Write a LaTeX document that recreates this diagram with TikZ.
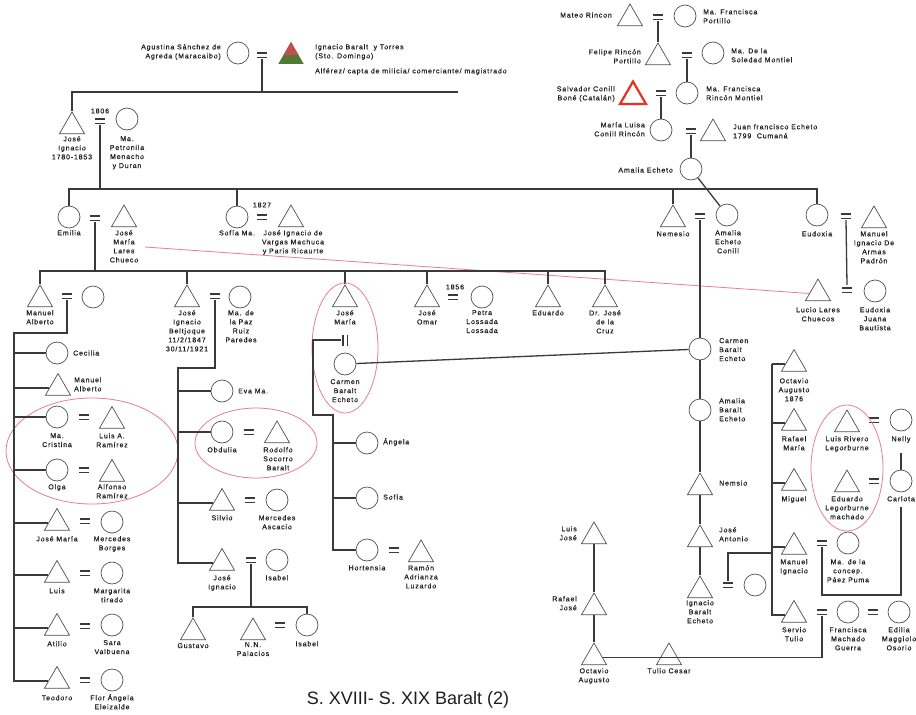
\documentclass[tikz,border=0pt]{standalone}
\usepackage{fontspec}
\setmainfont{Liberation Sans}
\newfontfamily\labfont{Liberation Sans}[LetterSpace=12,FakeBold=0.4]
\usetikzlibrary{shapes.geometric,calc}
\definecolor{linec}{HTML}{3A3A3A}
\definecolor{shapec}{HTML}{505050}
\definecolor{pinkc}{HTML}{E87AA8}
\definecolor{txtc}{HTML}{1E1E1E}
\definecolor{redt}{HTML}{C0504D}
\definecolor{greent}{HTML}{4E7A33}
\definecolor{redline}{HTML}{E8321E}
\begin{document}
\begin{tikzpicture}[x=1pt,y=-1pt,
 fem/.style={circle,draw=shapec,line width=0.7pt,minimum size=22pt,inner sep=0pt},
 mal/.style={regular polygon,regular polygon sides=3,draw=shapec,line width=0.7pt,minimum size=29pt,inner sep=0pt},
 lab/.style={font=\labfont\fontsize{7}{9}\selectfont,align=center,inner sep=0pt,text=txtc,anchor=north},
 labl/.style={lab,anchor=north west,align=left},
 labr/.style={lab,anchor=north east,align=right},
 con/.style={draw=linec,line width=1.3pt},
 pk/.style={draw=pinkc,line width=0.8pt},
 eqs/.pic={\draw[draw=linec,line width=1.6pt] (-5,-2.3) -- (5,-2.3) (-5,2.3) -- (5,2.3);},
 veqs/.pic={\draw[draw=linec,line width=1.6pt] (-2.3,-5.5) -- (-2.3,5.5) (2.3,-5.5) -- (2.3,5.5);}
]
\fill[white] (0,0) rectangle (916,715);
\useasboundingbox (0,0) rectangle (916,715);

% ---------------- top left
\node[fem] (agu) at (238,53) {};
\node[labr] (aguL) at (221,44) {Agustina Sánchez de\\Agreda (Maracaibo)};
\coordinate (eqA) at (262,55); \pic at (eqA) {eqs};
\node[mal,draw=none,path picture={
  \fill[greent] (path picture bounding box.south west) rectangle (path picture bounding box.north east);
  \fill[redt] (path picture bounding box.north west) rectangle ([yshift=-13pt]path picture bounding box.north east);}] (ign) at (291,56.5) {};
\node[labl] (ignL) at (315,44) {Ignacio Baralt\ \ y Torres\\(Sto. Domingo)};
\node[labl] (ignL2) at (315,68) {Alférez/ capta de milicia/ comerciante/ magistrado};

\node[mal] (jose1) at (72,126.5) {};
\node[lab] (jose1L) at (72,136) {José\\Ignacio\\1780-1853};
\node[lab,anchor=center] (y1806) at (100,111) {1806};
\coordinate (eq1) at (100,121); \pic at (eq1) {eqs};
\node[fem] (petr) at (127,119) {};
\node[lab] (petrL) at (127,136) {Ma.\\Petronila\\Menacho\\y Duran};

\coordinate (j0) at (262,92);
\coordinate (j0e) at (458,92);
\draw[con] ([yshift=-4pt]eqA) -- (j0);
\draw[con] (j0e) -- (jose1.north |- j0) -- (jose1.north);

% ---------------- generation of Emilia
\coordinate (j1) at (100,189);
\draw[con] ([yshift=-4pt]eq1) -- (j1);
\node[fem] (emil) at (69,217) {};
\node[lab] (emilL) at (69,230) {Emilia};
\coordinate (eq2) at (95,218); \pic at (eq2) {eqs};
\node[mal] (josl) at (124,219.5) {};
\node[lab] (joslL) at (124,230) {José\\María\\Lares\\Chueco};

\node[fem] (sofi) at (237,217) {};
\node[lab] (sofiL) at (237,230) {Sofía Ma.};
\node[lab,anchor=center] (y1827) at (262,205) {1827};
\coordinate (eq3) at (262,217); \pic at (eq3) {eqs};
\node[mal] (varg) at (291,219.5) {};
\node[lab] (vargL) at (293,230) {José Ignacio de\\Vargas Machuca\\y Paris Ricaurte};

\node[mal] (neme) at (673,219.5) {};
\node[lab] (nemeL) at (673,231) {Nemesio};
\coordinate (eq4) at (700,216); \pic at (eq4) {eqs};
\node[fem] (amec) at (727,215) {};
\node[lab] (amecL) at (728,230) {Amalia\\Echeto\\Conill};

\node[fem] (eudo) at (817,215) {};
\node[lab] (eudoL) at (817,231) {Eudoxia};
\coordinate (eq5) at (846,216); \pic at (eq5) {eqs};
\node[mal] (mani) at (874,220.5) {};
\node[lab] (maniL) at (874,231) {Manuel\\Ignacio De\\Armas\\Padrón};

\draw[con] (emil.north) -- (emil.north |- j1) -- (eudo.north |- j1) -- (eudo.north);
\draw[con] (sofi.north |- j1) -- (sofi.north);
\draw[con] (neme.north |- j1) -- (neme.north);

% ---------------- top right
\node[mal] (mate) at (630,18.5) {};
\node[lab,anchor=east] (mateL) at (612,15) {Mateo Rincon};
\coordinate (eq6) at (658,17); \pic at (eq6) {eqs};
\node[fem] (mafp) at (685,16) {};
\node[labl] (mafpL) at (703,9) {Ma. Francisca\\Portillo};
\node[mal] (feli) at (658,57.5) {};
\node[labr] (feliL) at (641,49) {Felipe Rincón\\Portillo};
\coordinate (eq7) at (687,55); \pic at (eq7) {eqs};
\node[fem] (maso) at (713,53) {};
\node[labl] (masoL) at (731,48) {Ma. De la\\Soledad Montiel};
\node[fem] (mafr) at (687,93) {};
\node[labl] (mafrL) at (706,86) {Ma. Francisca\\Rincón Montiel};
\node[mal,draw=redline,line width=2.2pt,minimum size=30pt] (salv) at (633,96.5) {};
\node[labr] (salvL) at (615,86) {Salvador Conill\\Boné (Catalán)};
\coordinate (eq8) at (661,93); \pic at (eq8) {eqs};
\node[fem] (malu) at (661,130) {};
\node[labr] (maluL) at (645,122) {María Luisa\\Conill Rincón};
\coordinate (eq9) at (691,131); \pic at (eq9) {eqs};
\node[mal] (juan) at (713,133.5) {};
\node[labl] (juanL) at (733,124) {Juan francisco Echeto\\1799\ \ Cumaná};
\node[fem] (amal) at (691,169) {};
\node[lab,anchor=east] (amalL) at (673,170) {Amalia Echeto};

\draw[con] ([yshift=-4pt]eq6) -- (feli.north);
\draw[con] ([yshift=-4pt]eq7) -- (mafr.north);
\draw[con] ([yshift=-4pt]eq8) -- (malu.north);
\draw[con] ([yshift=-4pt]eq9) -- (amal.north);
\draw[con] (amal) -- (amec);

% ---------------- Lucio / Eudoxia Juana
\node[mal] (luci) at (818,293.5) {};
\node[lab] (luciL) at (818,307) {Lucio Lares\\Chuecos};
\coordinate (eq10) at (847,290); \pic at (eq10) {eqs};
\node[fem] (eudj) at (875,291) {};
\node[lab] (eudjL) at (875,307) {Eudoxia\\Juana\\Bautista};
\draw[con] ([yshift=-4pt]eq5) -- ([yshift=5pt]eq10);
\coordinate (pk1) at (145,247);
\draw[pk] (pk1) -- (luci.west);

% ---------------- generation of Manuel Alberto etc.
\coordinate (j2) at (95,271);
\draw[con] ([yshift=-4pt]eq2) -- (j2);
\node[mal] (manu) at (40,299.5) {};
\node[lab] (manuL) at (40,310) {Manuel\\Alberto};
\coordinate (eq11) at (67,296); \pic at (eq11) {eqs};
\node[fem] (manw) at (93,297) {};

\node[mal] (jibe) at (187,299.5) {};
\node[lab] (jibeL) at (187,310) {José\\Ignacio\\Beltjoque\\11/2/1847\\30/11/1921};
\coordinate (eq12) at (215,296); \pic at (eq12) {eqs};
\node[fem] (mapz) at (240,297) {};
\node[lab] (mapzL) at (241,310) {Ma. de\\la Paz\\Ruiz\\Paredes};

\node[mal] (jmr) at (345,299.5) {};
\node[lab] (jmrL) at (345,310) {José\\María};
\coordinate (eqv) at (345,340); \pic at (eqv) {veqs};
\node[fem] (carm) at (345,364) {};
\node[lab] (carmL) at (345,379) {Carmen\\Baralt\\Echeto};

\node[mal] (jomr) at (427,299.5) {};
\node[lab] (jomrL) at (427,310) {José\\Omar};
\node[lab,anchor=center] (y1856) at (455,287) {1856};
\coordinate (eq13) at (453,297); \pic at (eq13) {eqs};
\node[fem] (petr2) at (482,297) {};
\node[lab] (petr2L) at (482,310) {Petra\\Lossada\\Lossada};

\node[mal] (edua) at (548,299.5) {};
\node[lab] (eduaL) at (548,310) {Eduardo};
\node[mal] (drjo) at (605,299.5) {};
\node[lab] (drjoL) at (605,310) {Dr. José\\de la\\Cruz};

\draw[con] (manu.north) -- (manu.north |- j2) -- (drjo.north |- j2) -- (drjo.north);
\draw[con] (jibe.north |- j2) -- (jibe.north);
\draw[con] (jmr.north |- j2) -- (jmr.north);
\draw[con] (jomr.north |- j2) -- (jomr.north);
\draw[con] (edua.north |- j2) -- (edua.north);

% ---------------- children of Manuel Alberto
\node[fem] (ceci) at (57,353) {};
\node[lab,anchor=west] (ceciL) at (73,353) {Cecilia};
\node[mal] (mana) at (58,388) {};
\node[labl] (manaL) at (74,377) {Manuel\\Alberto};
\node[fem] (macr) at (57,417) {};
\node[lab] (macrL) at (57,433) {Ma.\\Cristina};
\coordinate (eqc1) at (84,417); \pic at (eqc1) {eqs};
\node[mal] (luia) at (112,421) {};
\node[lab] (luiaL) at (112,433) {Luis A.\\Ramírez};
\node[fem] (olga) at (57,470) {};
\node[lab] (olgaL) at (57,484) {Olga};
\coordinate (eqc2) at (84,470); \pic at (eqc2) {eqs};
\node[mal] (alfo) at (112,474) {};
\node[lab] (alfoL) at (112,484) {Alfonso\\Ramírez};
\node[mal] (jmar) at (57,523) {};
\node[lab] (jmarL) at (57,536) {José María};
\coordinate (eqc3) at (85,521); \pic at (eqc3) {eqs};
\node[fem] (merc) at (112,522) {};
\node[lab] (mercL) at (112,536) {Mercedes\\Borges};
\node[mal] (luis) at (57,575) {};
\node[lab] (luisL) at (57,588) {Luis};
\coordinate (eqc4) at (85,573); \pic at (eqc4) {eqs};
\node[fem] (marg) at (112,573) {};
\node[lab] (margL) at (112,588) {Margarita\\tirado};
\node[mal] (atil) at (57,628) {};
\node[lab] (atilL) at (57,641) {Atilio};
\coordinate (eqc5) at (85,626); \pic at (eqc5) {eqs};
\node[fem] (sara) at (112,625) {};
\node[lab] (saraL) at (112,640) {Sara\\Valbuena};
\node[mal] (teod) at (57,681) {};
\node[lab] (teodL) at (57,695) {Teodoro};
\coordinate (eqc6) at (85,680); \pic at (eqc6) {eqs};
\node[fem] (flor) at (112,680) {};
\node[lab] (florL) at (112,694) {Flor Ángela\\Eleizalde};
\draw[pk] (92,451) ellipse [x radius=86pt, y radius=53pt];

\coordinate (v1) at (14,333);
\draw[con] ([yshift=-4pt]eq11) -- (eq11 |- v1) -- (v1) -- (v1 |- teod) -- (teod.west);
\foreach \n in {ceci,mana,macr,olga,jmar,luis,atil} \draw[con] (v1 |- \n) -- (\n.west);

% ---------------- children of José Ignacio Beltjoque
\node[fem] (evam) at (222,391) {};
\node[lab,anchor=west] (evamL) at (238,391) {Eva Ma.};
\node[fem] (obdu) at (222,432) {};
\node[lab] (obduL) at (222,447) {Obdulia};
\coordinate (eqd1) at (249,432); \pic at (eqd1) {eqs};
\node[mal] (rodo) at (277,435.5) {};
\node[lab] (rodoL) at (278,447) {Rodolfo\\Socorro\\Baralt};
\draw[pk] (256,443) ellipse [x radius=61pt, y radius=35pt];
\node[mal] (silv) at (222,503) {};
\node[lab] (silvL) at (222,515) {Silvio};
\coordinate (eqd2) at (250,500); \pic at (eqd2) {eqs};
\node[fem] (meas) at (277,500) {};
\node[lab] (measL) at (277,515) {Mercedes\\Ascacio};
\node[mal] (jig) at (222,563) {};
\node[lab] (jigL) at (222,575) {José\\Ignacio};
\coordinate (eqd3) at (251,560); \pic at (eqd3) {eqs};
\node[fem] (isa1) at (277,560) {};
\node[lab] (isa1L) at (277,575) {Isabel};
\node[mal] (gust) at (193,632.5) {};
\node[lab] (gustL) at (193,643) {Gustavo};
\node[mal] (nnpa) at (253,632.5) {};
\node[lab] (nnpaL) at (253,642) {N.N.\\Palacios};
\coordinate (eqd4) at (280,625); \pic at (eqd4) {eqs};
\node[fem] (isa2) at (307,625) {};
\node[lab] (isa2L) at (307,641) {Isabel};

\coordinate (v2) at (178,368);
\draw[con] ([yshift=-4pt]eq12) -- (eq12 |- v2) -- (v2) -- (v2 |- jig) -- (jig.west);
\foreach \n in {evam,obdu,silv} \draw[con] (v2 |- \n) -- (\n.west);
\coordinate (j3) at (251,607);
\draw[con] ([yshift=-4pt]eqd3) -- (j3);
\draw[con] (gust.north) -- (gust.north |- j3) -- (isa2.north |- j3) -- (isa2.north);

% ---------------- children of José María & Carmen
\node[fem] (ange) at (367,443) {};
\node[lab,anchor=west] (angeL) at (383,442) {Ángela};
\node[fem] (sofi2) at (367,498) {};
\node[lab,anchor=west] (sofi2L) at (383,497) {Sofía};
\node[fem] (hort) at (367,550) {};
\node[lab] (hortL) at (367,565) {Hortensia};
\coordinate (eqh) at (394,550); \pic at (eqh) {eqs};
\node[mal] (ramo) at (421,554.5) {};
\node[lab] (ramoL) at (421,565) {Ramón\\Adrianza\\Luzardo};
\draw[pk] (345,348) ellipse [x radius=33pt, y radius=65pt];
\coordinate (v3a) at (313,340);
\coordinate (v3b) at (313,415);
\coordinate (v3c) at (333,415);
\draw[con] ([xshift=-4.5pt]eqv) -- (v3a) -- (v3b) -- (v3c) -- (v3c |- hort) -- (hort.west);
\foreach \n in {ange,sofi2} \draw[con] (v3c |- \n) -- (\n.west);

% ---------------- right column
\node[fem] (carm2) at (700,349) {};
\node[labl] (carm2L) at (719,338) {Carmen\\Baralt\\Echeto};
\node[fem] (amba) at (700,410) {};
\node[labl] (ambaL) at (719,398) {Amalia\\Baralt\\Echeto};
\node[mal] (nems) at (700,487.5) {};
\node[lab,anchor=west] (nemsL) at (719,483) {Nemsio};
\node[mal] (joan) at (700,539.5) {};
\node[labl] (joanL) at (719,527) {José\\Antonio};
\node[mal] (igba) at (700,590.5) {};
\node[lab] (igbaL) at (700,600) {Ignacio\\Baralt\\Echeto};
\coordinate (eq15) at (728,585); \pic at (eq15) {eqs};
\node[fem] (igw) at (755,585) {};
\draw[con] ([yshift=-4pt]eq4) -- (carm2.north);
\draw[con] (carm2.south) -- (amba.north) (amba.south) -- (nems.north) (nems.south) -- (joan.north) (joan.south) -- (igba.north);
\draw[con] (carm) -- (carm2);

\node[mal] (octa) at (794,364) {};
\node[lab] (octaL) at (794,378) {Octavio\\Augusto\\1876};
\node[mal] (rafm) at (794,423) {};
\node[lab] (rafmL) at (794,436) {Rafael\\María};
\node[mal] (migu) at (794,483) {};
\node[lab] (miguL) at (794,496) {Miguel};
\node[mal] (mani2) at (794,547) {};
\node[lab] (mani2L) at (794,559) {Manuel\\Ignacio};
\coordinate (eq16) at (822,543); \pic at (eq16) {eqs};
\node[fem] (conc) at (848,543) {};
\node[lab] (concL) at (848,559) {Ma. de la\\concep.\\Páez Puma};
\node[mal] (serv) at (794,615) {};
\node[lab] (servL) at (794,627) {Servio\\Tulio};
\coordinate (eq17) at (822,612); \pic at (eq17) {eqs};
\node[fem] (fran) at (848,612) {};
\node[lab] (franL) at (848,627) {Francisca\\Machado\\Guerra};
\coordinate (eq18) at (873,612); \pic at (eq18) {eqs};
\node[fem] (edil) at (899,612) {};
\node[lab] (edilL) at (899,627) {Edilia\\Maggiolo\\Osorio};

\node[mal] (lriv) at (847,424.5) {};
\node[lab] (lrivL) at (847,436) {Luis Rivero\\Legorburne};
\coordinate (eq19) at (874,420); \pic at (eq19) {eqs};
\node[fem] (nell) at (901,420) {};
\node[lab] (nellL) at (901,436) {Nelly};
\node[mal] (edle) at (847,484.5) {};
\node[lab] (edleL) at (847,496) {Eduardo\\Legorburne\\machado};
\coordinate (eq20) at (874,481); \pic at (eq20) {eqs};
\node[fem] (carl) at (901,481) {};
\node[lab] (carlL) at (901,496) {Carlota};
\draw[pk] (847,468) ellipse [x radius=36pt, y radius=63pt];
\draw[con] ([yshift=-10pt]nellL.south) -- (carl.north);

\coordinate (v4) at (772,364);
\coordinate (v4j) at (772,553);
\draw[con] (v4) -- (v4 |- serv) -- (serv.west);
\foreach \n in {octa,rafm,migu,mani2} \draw[con] (v4 |- \n) -- (\n.west);
\draw[con] ([yshift=4pt]eq15) -- (eq15 |- v4j) -- (v4j);
\coordinate (v5) at (823,595);
\draw[con] ([yshift=-4pt]eq16) -- (eq16 |- v5) -- (carlL.south |- v5) -- ([yshift=-5pt]carlL.south);

\node[mal] (luij) at (594,536.5) {};
\node[labr] (luijL) at (577,526) {Luis\\José};
\node[mal] (rafj) at (594,607.5) {};
\node[labr] (rafjL) at (577,596) {Rafael\\José};
\node[mal] (octa2) at (594,657.5) {};
\node[lab] (octa2L) at (594,668) {Octavio\\Augusto};
\node[mal] (tuli) at (669,657.5) {};
\node[lab] (tuliL) at (669,668) {Tulio Cesar};
\draw[con] (luij.south) -- (rafj.north) (rafj.south) -- (octa2.north);
\draw[con] ([yshift=-4pt]eq17) -- (eq17 |- octa2) -- (octa2.east);

% ---------------- title
\node[font=\fontsize{18}{20}\selectfont,text=txtc] (title) at (408,700) {S. XVIII- S. XIX Baralt (2)};
\end{tikzpicture}
\end{document}
